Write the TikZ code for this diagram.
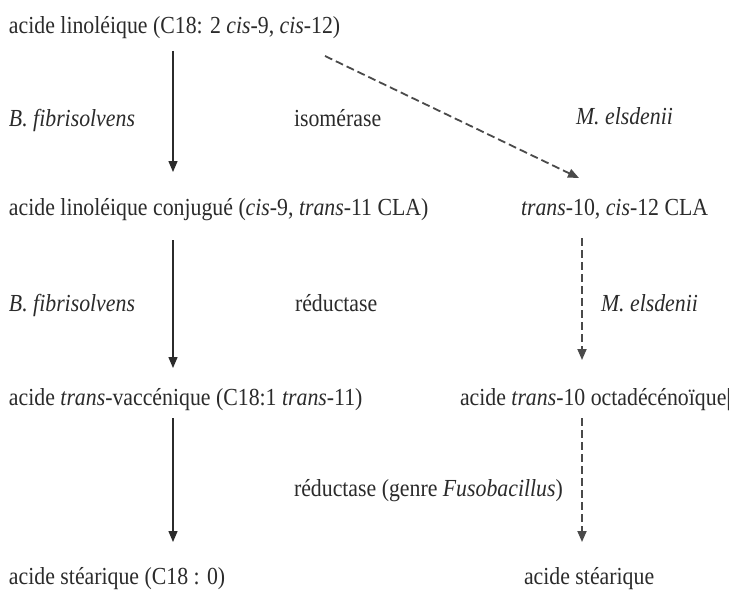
\documentclass[tikz,border=0pt]{standalone}
\usepackage{fontspec}
\setmainfont{Liberation Serif}[FakeStretch=0.89]
\usetikzlibrary{arrows.meta}
\definecolor{txt}{HTML}{2B2B2B}
\definecolor{dashc}{HTML}{4A4A4A}
\tikzset{
  lbl/.style={anchor=base west, inner sep=0pt, outer sep=0pt, text=txt,
    font=\fontsize{24.5}{28}\selectfont},
  solidarrow/.style={draw=txt, line width=1.3pt, -{Triangle[length=11pt,width=9pt]}},
  dasharrow/.style={draw=dashc, line width=1.8pt, dash pattern=on 8pt off 4pt,
    -{Triangle[length=11pt,width=9pt]}},
}
\begin{document}
\begin{tikzpicture}[x=1pt,y=-1pt]
\useasboundingbox (0,0) rectangle (730,594);
\fill[white] (0,0) rectangle (730,594);
% row 1
\node[lbl] (r1) at (9,34) {acide linoléique (C18: 2 \textit{cis}-9, \textit{cis}-12)};
% labels 1
\node[lbl] (l1a) at (9,126) {\textit{B. fibrisolvens}};
\node[lbl] (l1b) at (294,126) {isomérase};
\node[lbl] (l1c) at (576,124) {\textit{M. elsdenii}};
% row 2
\node[lbl] (r2l) at (9,215) {acide linoléique conjugué (\textit{cis}-9, \textit{trans}-11 CLA)};
\node[lbl] (r2r) at (521,215) {\textit{trans}-10, \textit{cis}-12 CLA};
% labels 2
\node[lbl] (l2a) at (9,311) {\textit{B. fibrisolvens}};
\node[lbl] (l2b) at (295,311) {réductase};
\node[lbl] (l2c) at (601,311) {\textit{M. elsdenii}};
% row 3
\node[lbl] (r3l) at (9,405) {acide \textit{trans}-vaccénique (C18:1 \textit{trans}-11)};
\node[lbl] (r3r) at (460,405) {acide \textit{trans}-10 octadécénoïque|};
% label 3
\node[lbl] (l3b) at (294,496) {réductase (genre \textit{Fusobacillus})};
% row 4
\node[lbl] (r4l) at (9,584) {acide stéarique (C18 : 0)};
\node[lbl] (r4r) at (524,584) {acide stéarique};
% connector end points
\coordinate (a1s) at (173,51);  \coordinate (a1e) at (173,172);
\coordinate (a2s) at (173,240); \coordinate (a2e) at (173,368);
\coordinate (a3s) at (173,418); \coordinate (a3e) at (173,542);
\coordinate (d0s) at (325,56);  \coordinate (d0e) at (579,178);
\coordinate (d2s) at (582,238); \coordinate (d2e) at (582,360);
\coordinate (d3s) at (582,418); \coordinate (d3e) at (582,542);
% connectors
\draw[solidarrow] (a1s) -- (a1e);
\draw[solidarrow] (a2s) -- (a2e);
\draw[solidarrow] (a3s) -- (a3e);
\draw[dasharrow] (d0s) -- (d0e);
\draw[dasharrow] (d2s) -- (d2e);
\draw[dasharrow] (d3s) -- (d3e);
\end{tikzpicture}
\end{document}
